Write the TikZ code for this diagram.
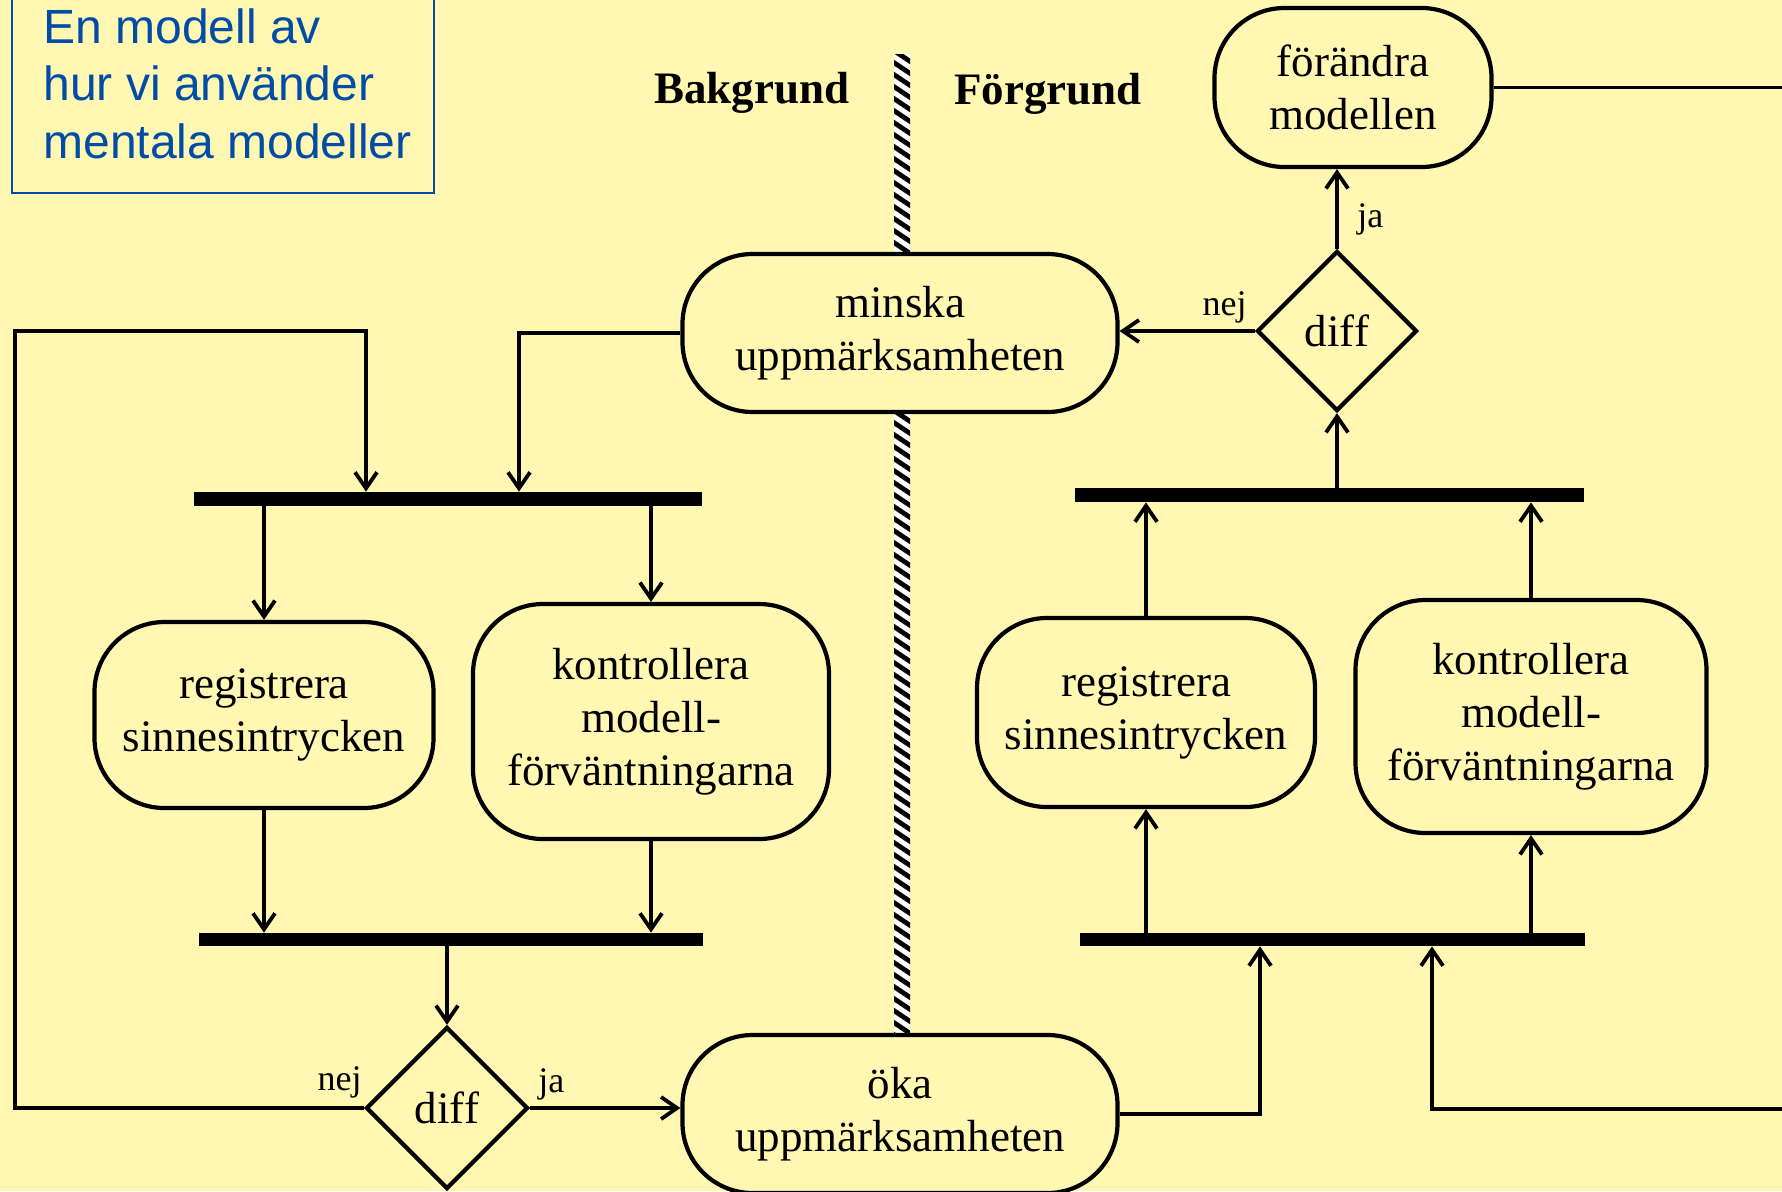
\documentclass[tikz,border=0pt]{standalone}
\usepackage{fontspec}
\setmainfont{Liberation Serif}
\newfontfamily\titlefont{Liberation Sans}
\usetikzlibrary{arrows.meta,shapes.geometric}
\definecolor{bgc}{RGB}{255,247,178}
\definecolor{titleblue}{RGB}{0,76,166}
\begin{document}
\begin{tikzpicture}[x=0.5pt,y=-0.5pt,
  act/.style={draw, line width=2.1pt, fill=bgc, rounded corners=35pt, align=center, inner sep=0pt, font=\fontsize{22.5}{26.5}\selectfont},
  dec/.style={draw, diamond, line width=2.1pt, fill=bgc, inner sep=0pt, minimum width=81pt, minimum height=81pt, font=\fontsize{22.5}{26.5}\selectfont},
  syncbar/.style={fill=black, inner sep=0pt, minimum height=7pt},
  conn/.style={line width=1.9pt},
  arr/.style={-{Straight Barb[length=8pt,width=11pt]}},
  lbl/.style={font=\fontsize{18}{20}\selectfont, inner sep=0pt},
  hdr/.style={font=\bfseries\fontsize{22.5}{26}\selectfont, inner sep=0pt, anchor=base}]
\useasboundingbox (0,0) rectangle (1782,1191);
\fill[bgc] (0,0) rectangle (1782,1191);

% separator
\begin{scope}
\clip (894,54) rectangle (910,1035);
\fill[white] (894,54) rectangle (910,1035);
\foreach \yy in {36,48,...,1044} \draw[line width=2.4pt] (890,\yy) -- (914,\yy+16);
\end{scope}

% title
\draw[titleblue, line width=1pt] (12,-10) rectangle (434,193);
\node[anchor=north west, inner sep=0pt, align=left, text=titleblue, font=\titlefont\fontsize{24}{28.8}\selectfont] (title) at (43,8) {En modell av\\hur vi använder\\mentala modeller};

% headers
\node[hdr] (bak) at (752,103) {Bakgrund};
\node[hdr] (forg) at (1048,104) {Förgrund};

% activities
\node[act, minimum width=217.5pt, minimum height=79pt] (minska) at (900,333) {minska\\uppmärksamheten};
\node[act, minimum width=217.5pt, minimum height=79pt] (oka) at (900,1114) {öka\\uppmärksamheten};
\node[act, minimum width=138.5pt, minimum height=79.5pt] (forandra) at (1353,87.5) {förändra\\modellen};
\node[act, minimum width=169.5pt, minimum height=93pt] (regL) at (264,715) {registrera\\sinnesintrycken};
\node[act, minimum width=178pt, minimum height=117.5pt] (konL) at (651,721.5) {kontrollera\\modell-\\förväntningarna};
\node[act, minimum width=169pt, minimum height=94.5pt] (regR) at (1146,712.5) {registrera\\sinnesintrycken};
\node[act, minimum width=175.5pt, minimum height=116.5pt] (konR) at (1531,716.5) {kontrollera\\modell-\\förväntningarna};

% decisions
\node[dec] (diffL) at (447,1108) {diff};
\node[dec, minimum width=80pt, minimum height=80pt] (diffR) at (1337,331) {diff};

% sync bars
\node[syncbar, minimum width=254pt] (barUL) at (448,499) {};
\node[syncbar, minimum width=252pt, minimum height=6.5pt] (barLL) at (451,939.5) {};
\node[syncbar, minimum width=254.5pt] (barUR) at (1329.5,495) {};
\node[syncbar, minimum width=252.5pt, minimum height=6.5pt] (barLR) at (1332.5,939.5) {};

% labels
\node[lbl, anchor=base east] (nejL) at (362,1090) {nej};
\node[lbl, anchor=base west] (jaL) at (538,1092) {ja};
\node[lbl, anchor=base east] (nejR) at (1247,315) {nej};
\node[lbl, anchor=base west] (jaR) at (1357,227) {ja};

% helper coordinates
\coordinate (xA) at (519,0);
\coordinate (cornerL) at (15,331);
\coordinate (xB) at (366,331);
\coordinate (xC) at (1260,0);
\coordinate (xD) at (1432,0);
\coordinate (loopIn) at (1782,1109);
\coordinate (edgeR) at (1782,0);

% connectors
\draw[conn,arr] (minska.west) -| (xA |- barUL.north);
\draw[conn,arr] (diffL.west) -| (cornerL) -- (xB) -- (xB |- barUL.north);
\draw[conn,arr] (barUL.south -| regL.north) -- (regL.north);
\draw[conn,arr] (barUL.south -| konL.north) -- (konL.north);
\draw[conn,arr] (regL.south) -- (regL.south |- barLL.north);
\draw[conn,arr] (konL.south) -- (konL.south |- barLL.north);
\draw[conn,arr] (barLL.south -| diffL.north) -- (diffL.north);
\draw[conn,arr] (diffL.east) -- (diffL.east -| oka.west);
\draw[conn,arr] (oka.east) -| (xC |- barLR.south);
\draw[conn,arr] (loopIn) -| (xD |- barLR.south);
\draw[conn,arr] (barLR.north -| regR.south) -- (regR.south);
\draw[conn,arr] (barLR.north -| konR.south) -- (konR.south);
\draw[conn,arr] (regR.north) -- (regR.north |- barUR.south);
\draw[conn,arr] (konR.north) -- (konR.north |- barUR.south);
\draw[conn,arr] (barUR.north -| diffR.south) -- (diffR.south);
\draw[conn,arr] (diffR.north) -- (diffR.north |- forandra.south);
\draw[conn,arr] (diffR.west) -- (diffR.west -| minska.east);
\draw[conn] (forandra.east) -- (forandra.east -| edgeR);
\end{tikzpicture}
\end{document}
